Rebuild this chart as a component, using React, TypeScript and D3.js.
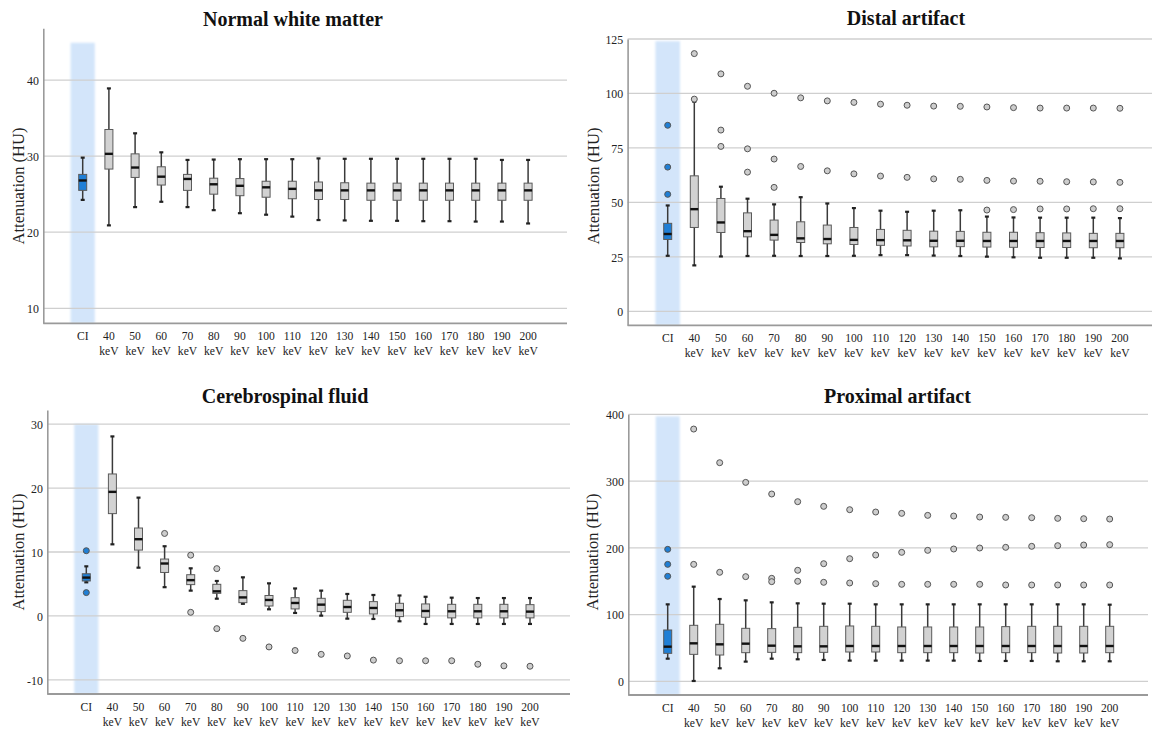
import React, { useEffect, useRef } from "react";
import * as d3 from "d3";

const categories = [
  "CI", "40 keV", "50 keV", "60 keV", "70 keV", "80 keV", "90 keV", "100 keV", "110 keV",
  "120 keV", "130 keV", "140 keV", "150 keV", "160 keV", "170 keV", "180 keV", "190 keV", "200 keV",
];

// Normal white matter
const nwmHigh = [29.8, 38.9, 33.0, 30.5, 29.5, 29.55, 29.6, 29.6, 29.6, 29.7, 29.65, 29.65, 29.65, 29.65, 29.65, 29.65, 29.5, 29.5];
const nwmQ3 = [27.6, 33.5, 30.3, 28.6, 27.6, 27.1, 27.05, 26.7, 26.7, 26.6, 26.5, 26.45, 26.45, 26.45, 26.45, 26.45, 26.45, 26.45];
const nwmMedian = [26.8, 30.3, 28.5, 27.3, 27.0, 26.3, 26.1, 25.9, 25.7, 25.5, 25.5, 25.5, 25.5, 25.5, 25.5, 25.5, 25.5, 25.5];
const nwmQ1 = [25.5, 28.3, 27.2, 26.2, 25.5, 25.0, 24.8, 24.6, 24.4, 24.3, 24.3, 24.2, 24.2, 24.2, 24.2, 24.2, 24.2, 24.2];
const nwmLow = [24.25, 20.9, 23.3, 24.0, 23.3, 22.9, 22.5, 22.3, 22.05, 21.6, 21.55, 21.5, 21.5, 21.45, 21.45, 21.4, 21.4, 21.15];
const nwmOutliers: number[][] = [[], [], [], [], [], [], [], [], [], [], [], [], [], [], [], [], [], []];

// Distal artifact
const distHigh = [48.6, 96.2, 57.2, 51.7, 49.1, 52.4, 49.5, 47.4, 46.2, 45.7, 46.2, 46.4, 43.5, 43.1, 43.0, 43.0, 43.0, 42.8];
const distQ3 = [40.4, 62.2, 51.8, 45.2, 41.9, 41.1, 39.6, 38.5, 37.6, 37.2, 36.8, 36.7, 36.3, 36.3, 36.1, 36.0, 35.8, 35.8];
const distMedian = [35.5, 46.9, 40.8, 36.8, 35.1, 33.5, 33.2, 32.8, 32.7, 32.6, 32.4, 32.4, 32.3, 32.3, 32.3, 32.3, 32.3, 32.3];
const distQ1 = [33.0, 38.5, 36.2, 34.2, 32.7, 31.6, 31.0, 30.7, 30.3, 30.0, 29.6, 29.7, 29.5, 29.4, 29.3, 29.3, 29.2, 29.2];
const distLow = [25.5, 21.1, 25.2, 25.4, 25.5, 25.4, 25.4, 25.5, 25.8, 25.8, 25.6, 25.4, 25.1, 24.8, 24.6, 24.6, 24.6, 24.3];
const distOutliers = [
  [85.4, 66.2, 53.7], [118.3, 97.4], [109, 83.2, 75.7], [103.3, 74.6, 63.9], [100.1, 69.9, 56.9],
  [98, 66.5], [96.6, 64.5], [95.9, 63.1], [95.1, 62.1], [94.6, 61.5], [94.2, 60.8], [94.1, 60.6],
  [93.8, 60.1, 46.5], [93.5, 59.8, 46.7], [93.3, 59.7, 47.0], [93.3, 59.5, 47.0], [93.3, 59.4, 47.1], [93.2, 59.2, 47.1],
];

// Cerebrospinal fluid
const csfHigh = [7.76, 28.07, 18.5, 10.9, 7.45, 5.47, 6.04, 5.1, 4.3, 3.96, 3.44, 3.28, 3.2, 3.0, 2.86, 2.8, 2.8, 2.8];
const csfQ3 = [6.6, 22.2, 13.75, 8.9, 6.45, 4.95, 3.96, 3.2, 2.86, 2.76, 2.45, 2.24, 1.98, 1.88, 1.82, 1.82, 1.82, 1.77];
const csfMedian = [6.0, 19.4, 12.0, 8.2, 5.6, 3.85, 2.9, 2.5, 2.03, 1.77, 1.4, 1.25, 0.89, 0.78, 0.73, 0.73, 0.73, 0.68];
const csfQ1 = [5.47, 16.0, 10.3, 6.8, 4.9, 3.54, 2.08, 1.56, 1.1, 0.68, 0.57, 0.31, -0.1, -0.2, -0.3, -0.3, -0.3, -0.3];
const csfLow = [5.26, 11.2, 7.55, 4.5, 3.96, 2.7, 1.9, 1.04, 0.47, 0.05, -0.42, -0.47, -0.83, -1.25, -1.25, -1.25, -1.25, -1.25];
const csfOutliers = [
  [10.2, 3.65], [], [], [12.9], [9.5, 0.57], [7.4, -1.98], [-3.5], [-4.84], [-5.4],
  [-6.0], [-6.25], [-6.9], [-7.0], [-7.0], [-7.0], [-7.55], [-7.8], [-7.86],
];

// Proximal artifact
const proxHigh = [115.3, 141.8, 123.3, 121.3, 118.3, 116.8, 116.3, 116.3, 115.3, 115.3, 115.3, 115.3, 115.3, 115.3, 115.3, 115.3, 115.3, 114.8];
const proxQ3 = [76.9, 83.9, 85.4, 79.4, 78.9, 80.9, 82.4, 82.9, 82.4, 81.4, 81.4, 81.4, 81.4, 81.9, 82.4, 82.4, 82.4, 82.4];
const proxMedian = [51.9, 56.9, 55.4, 56.4, 53.4, 52.4, 52.4, 52.9, 52.9, 52.9, 52.9, 52.9, 52.9, 52.9, 52.9, 52.9, 52.9, 52.9];
const proxQ1 = [41.9, 40.4, 39.4, 42.9, 43.4, 42.9, 43.4, 43.9, 43.9, 42.9, 42.9, 42.9, 42.4, 42.9, 42.9, 42.4, 42.4, 42.9];
const proxLow = [33.9, 0.5, 19.5, 29.5, 33.9, 33.0, 32.0, 31.0, 31.0, 31.0, 31.0, 31.0, 30.5, 30.5, 30.5, 30.0, 30.0, 30.0];
const proxOutliers = [
  [197.7, 175.2, 157.3], [377.9, 175.2], [327.5, 163.3], [298, 156.8], [280.6, 154.3, 149.3],
  [269.1, 166.3, 149.8], [262.1, 176.2, 148.3], [257.1, 183.7, 147.3], [253.6, 189.2, 146.3],
  [251.6, 193.2, 145.3], [248.6, 196.2, 145.3], [247.6, 198.2, 145.3], [246.1, 199.7, 145.3],
  [245.6, 200.7, 144.3], [245.1, 202.2, 144.3], [244.1, 203.2, 144.3], [243.6, 204.2, 144.3], [243.1, 204.7, 144.3],
];

const FONT = "'Liberation Serif', 'Times New Roman', serif";

const panels = [
  {
    title: "Normal white matter", high: nwmHigh, q3: nwmQ3, median: nwmMedian, q1: nwmQ1, low: nwmLow, outliers: nwmOutliers,
    domain: [8.03, 46.8], ticks: [10, 20, 30, 40], bandTop: 44.9,
    left: 43.3, right: 567, top: 28.3, bottom: 323.3, x0: 69.6, x1: 541.2,
    titleX: 293, titleY: 26, labelX: 18.6, labelY: 186,
  },
  {
    title: "Distal artifact", high: distHigh, q3: distQ3, median: distMedian, q1: distQ1, low: distLow, outliers: distOutliers,
    domain: [-6.4, 125], ticks: [0, 25, 50, 75, 100, 125], bandTop: 124,
    left: 627.6, right: 1152, top: 39, bottom: 325.3, x0: 654.4, x1: 1133.2,
    titleX: 906, titleY: 25, labelX: 593, labelY: 186,
  },
  {
    title: "Cerebrospinal fluid", high: csfHigh, q3: csfQ3, median: csfMedian, q1: csfQ1, low: csfLow, outliers: csfOutliers,
    domain: [-12.2, 32.2], ticks: [-10, 0, 10, 20, 30], bandTop: 30,
    left: 47.3, right: 570, top: 410, bottom: 694, x0: 73.25, x1: 543.05,
    titleX: 285, titleY: 403, labelX: 18.6, labelY: 552,
  },
  {
    title: "Proximal artifact", high: proxHigh, q3: proxQ3, median: proxMedian, q1: proxQ1, low: proxLow, outliers: proxOutliers,
    domain: [-20.5, 400], ticks: [0, 100, 200, 300, 400], bandTop: 397,
    left: 628.3, right: 1148, top: 414.3, bottom: 695, x0: 654.7, x1: 1122.7,
    titleX: 897.5, titleY: 403, labelX: 592.6, labelY: 552,
  },
];

function drawPanel(svg: any, p: any) {
  const g = svg.append("g");
  const x = d3.scaleBand().domain(categories).range([p.x0, p.x1]).padding(0);
  const y = d3.scaleLinear().domain(p.domain).range([p.bottom, p.top]);
  const cx = (c: string) => (x(c) as number) + x.bandwidth() / 2;

  // highlighted CI column
  g.append("rect")
    .attr("x", (x("CI") as number) + 1)
    .attr("width", x.bandwidth() - 2)
    .attr("y", y(p.bandTop))
    .attr("height", p.bottom - y(p.bandTop))
    .attr("fill", "#d3e5fa")
    .attr("filter", "url(#soft)");

  // gridlines
  g.selectAll(".grid")
    .data(p.ticks)
    .join("line")
    .attr("x1", p.left)
    .attr("x2", p.right)
    .attr("y1", (d: number) => y(d))
    .attr("y2", (d: number) => y(d))
    .attr("stroke", "#cfcfcf")
    .attr("stroke-width", 1.3);

  // y axis
  const yAxis = g.append("g")
    .attr("transform", `translate(${p.left},0)`)
    .call(d3.axisLeft(y).tickValues(p.ticks).tickSize(0).tickSizeOuter(0).tickPadding(5).tickFormat((d: any) => String(d)));
  yAxis.select(".domain").attr("stroke", "#9a9a9a").attr("stroke-width", 1.6);
  yAxis.selectAll("text")
    .attr("font-family", FONT)
    .attr("font-size", 13.5)
    .attr("fill", "#222")
    .attr("transform", "scale(0.88,1)");

  // x axis line
  g.append("line")
    .attr("x1", p.left)
    .attr("x2", p.right)
    .attr("y1", p.bottom)
    .attr("y2", p.bottom)
    .attr("stroke", "#9a9a9a")
    .attr("stroke-width", 1.8);

  // x labels (two lines)
  const xl = g.selectAll(".xl")
    .data(categories)
    .join("text")
    .attr("transform", (d: string) => `translate(${cx(d)},${p.bottom + 17}) scale(0.86,1)`)
    .attr("text-anchor", "middle")
    .attr("font-family", FONT)
    .attr("font-size", 13.5)
    .attr("fill", "#222");
  xl.each(function (this: any, d: string) {
    const parts = d.split(" ");
    const t = d3.select(this);
    parts.forEach((s, i) => {
      t.append("tspan").attr("x", 0).attr("dy", i === 0 ? 0 : 15).text(s);
    });
  });

  const bw = 8;
  const cap = 2;
  const rows = categories.map((c, i) => ({
    c, i, hi: p.high[i], q3: p.q3[i], med: p.median[i], q1: p.q1[i], lo: p.low[i], out: p.outliers[i],
  }));

  const boxes = g.selectAll(".box").data(rows).join("g");

  // whiskers
  boxes.append("line")
    .attr("x1", (d: any) => cx(d.c))
    .attr("x2", (d: any) => cx(d.c))
    .attr("y1", (d: any) => y(d.hi))
    .attr("y2", (d: any) => y(d.lo))
    .attr("stroke", "#3a3a3a")
    .attr("stroke-width", 1.5);
  boxes.selectAll(".cap")
    .data((d: any) => [d.hi, d.lo].map((v) => ({ c: d.c, v })))
    .join("line")
    .attr("x1", (d: any) => cx(d.c) - cap)
    .attr("x2", (d: any) => cx(d.c) + cap)
    .attr("y1", (d: any) => y(d.v))
    .attr("y2", (d: any) => y(d.v))
    .attr("stroke", "#222")
    .attr("stroke-width", 2.2);

  // box
  boxes.append("rect")
    .attr("x", (d: any) => cx(d.c) - bw / 2)
    .attr("width", bw)
    .attr("y", (d: any) => y(d.q3))
    .attr("height", (d: any) => y(d.q1) - y(d.q3))
    .attr("fill", (d: any) => (d.i === 0 ? "#1f7fd6" : "#d2d2d2"))
    .attr("stroke", "#5a5a5a")
    .attr("stroke-width", 1);

  // median
  boxes.append("line")
    .attr("x1", (d: any) => cx(d.c) - bw / 2)
    .attr("x2", (d: any) => cx(d.c) + bw / 2)
    .attr("y1", (d: any) => y(d.med))
    .attr("y2", (d: any) => y(d.med))
    .attr("stroke", "#111")
    .attr("stroke-width", 2.4);

  // outliers
  boxes.selectAll(".out")
    .data((d: any) => d.out.map((v: number) => ({ c: d.c, i: d.i, v })))
    .join("circle")
    .attr("cx", (d: any) => cx(d.c))
    .attr("cy", (d: any) => y(d.v))
    .attr("r", 3)
    .attr("fill", (d: any) => (d.i === 0 ? "#1f7fd6" : "#cdcdcd"))
    .attr("stroke", "#555")
    .attr("stroke-width", 1);

  // titles
  g.append("text")
    .attr("x", p.titleX)
    .attr("y", p.titleY)
    .attr("text-anchor", "middle")
    .attr("font-family", FONT)
    .attr("font-weight", "bold")
    .attr("font-size", 20)
    .attr("fill", "#111")
    .text(p.title);

  g.append("text")
    .attr("transform", `translate(${p.labelX},${p.labelY}) rotate(-90)`)
    .attr("text-anchor", "middle")
    .attr("dominant-baseline", "central")
    .attr("font-family", FONT)
    .attr("font-size", 16.5)
    .attr("fill", "#222")
    .text("Attenuation (HU)");
}

export default function App() {
  const ref = useRef<SVGSVGElement>(null);

  useEffect(() => {
    const svg = d3.select(ref.current);
    svg.selectAll("*").remove();
    svg.append("defs")
      .append("filter")
      .attr("id", "soft")
      .append("feGaussianBlur")
      .attr("stdDeviation", 0.8);
    panels.forEach((p) => drawPanel(svg, p));
  }, []);

  return (
    <svg
      ref={ref}
      width={1152}
      height={731}
      style={{ position: "absolute", left: 0, top: 0, background: "#fff", display: "block" }}
    />
  );
}
